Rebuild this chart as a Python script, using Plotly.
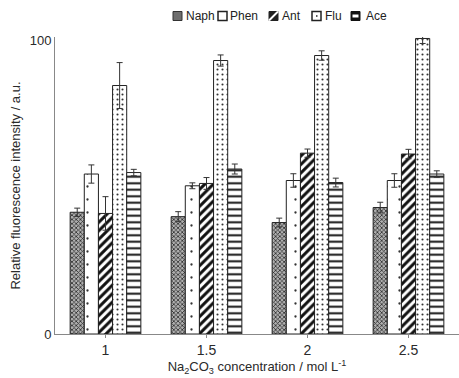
import plotly.graph_objects as go

categories = ["1", "1.5", "2", "2.5"]
series_names = ["Naph", "Phen", "Ant", "Flu", "Ace"]
naph = [41.4, 39.9, 37.9, 43.0]
naph_err = [1.4, 1.7, 1.5, 1.8]
phen = [54.4, 50.4, 52.2, 52.2]
phen_err = [3.1, 1.0, 2.3, 2.3]
ant = [41.0, 51.2, 61.5, 61.2]
ant_err = [5.7, 2.0, 1.4, 1.6]
flu = [84.5, 93.0, 94.7, 100.5]
flu_err = [7.8, 1.9, 1.6, 1.7]
ace = [54.9, 56.1, 51.5, 54.4]
ace_err = [1.1, 1.7, 1.5, 1.1]

values = [naph, phen, ant, flu, ace]
errors = [naph_err, phen_err, ant_err, flu_err, ace_err]

patterns = [
    dict(shape="x", size=3, solidity=0.45, fgcolor="#2a2a2a", bgcolor="#b0b0b0", fillmode="replace", fgopacity=1),
    dict(shape=".", size=13, solidity=0.025, fgcolor="#333333", bgcolor="white", fillmode="replace", fgopacity=1),
    dict(shape="/", size=6, solidity=0.5, fgcolor="#111111", bgcolor="white", fillmode="replace", fgopacity=1),
    dict(shape=".", size=5, solidity=0.14, fgcolor="#333333", bgcolor="white", fillmode="replace", fgopacity=1),
    dict(shape="-", size=6.5, solidity=0.3, fgcolor="#111111", bgcolor="white", fillmode="replace", fgopacity=1),
]

fig = go.Figure()
for name, v, e, p in zip(series_names, values, errors, patterns):
    fig.add_trace(go.Bar(
        x=categories, y=v, name=name,
        marker=dict(color="white", pattern=p, line=dict(color="#222222", width=1)),
        error_y=dict(type="data", array=e, visible=True, color="#333333", thickness=1, width=3),
        showlegend=False,
    ))

font = "Liberation Sans, Arial, sans-serif"
W, H = 459, 378
ML, MR, MT, MB = 55, 0, 37, 44
PW, PH = W - ML - MR, H - MT - MB


def px(x):
    return (x - ML) / PW


def py(y):
    return (H - MB - y) / PH


# manual compact legend (swatch left px, text left px)
legend_pos = [(173, 184), (218, 228), (269, 280), (312, 323), (351, 364)]
SW = 9
LY = 16
shapes = []
annotations = []
for (sx, tx), name in zip(legend_pos, series_names):
    x0, x1 = px(sx), px(sx + SW)
    y0, y1 = py(LY + SW / 2), py(LY - SW / 2)
    if name == "Naph":
        shapes.append(dict(type="rect", xref="paper", yref="paper", x0=x0, x1=x1, y0=y0, y1=y1,
                           fillcolor="#6e6e6e", line=dict(color="#333333", width=1)))
    elif name == "Phen":
        shapes.append(dict(type="rect", xref="paper", yref="paper", x0=x0, x1=x1, y0=y0, y1=y1,
                           fillcolor="white", line=dict(color="#222222", width=1.5)))
    elif name == "Ant":
        shapes.append(dict(type="rect", xref="paper", yref="paper", x0=x0, x1=x1, y0=y0, y1=y1,
                           fillcolor="#222222", line=dict(color="#222222", width=1)))
        shapes.append(dict(type="line", xref="paper", yref="paper", x0=x0, x1=x1, y0=y0, y1=y1,
                           line=dict(color="white", width=2)))
    elif name == "Flu":
        shapes.append(dict(type="rect", xref="paper", yref="paper", x0=x0, x1=x1, y0=y0, y1=y1,
                           fillcolor="white", line=dict(color="#222222", width=1.5)))
        shapes.append(dict(type="rect", xref="paper", yref="paper",
                           x0=px(sx + 4), x1=px(sx + 5.5), y0=py(LY + 0.75), y1=py(LY - 0.75),
                           fillcolor="#222222", line=dict(width=0)))
    else:
        shapes.append(dict(type="rect", xref="paper", yref="paper", x0=x0, x1=x1, y0=y0, y1=y1,
                           fillcolor="#111111", line=dict(color="#111111", width=1)))
        shapes.append(dict(type="rect", xref="paper", yref="paper",
                           x0=px(sx + 1.5), x1=px(sx + SW - 1.5), y0=py(LY + 1.5), y1=py(LY - 1.5),
                           fillcolor="white", line=dict(width=0)))
    annotations.append(dict(text=name, xref="paper", yref="paper", x=px(tx), y=py(LY),
                            xanchor="left", yanchor="middle", showarrow=False,
                            font=dict(family=font, size=12, color="#222222")))

fig.update_layout(
    width=W, height=H,
    margin=dict(l=ML, r=MR, t=MT, b=MB),
    paper_bgcolor="white", plot_bgcolor="white",
    barmode="group", bargap=0.3, bargroupgap=0,
    font=dict(family=font, size=13, color="#2a2a2a"),
    showlegend=False,
    shapes=shapes,
    annotations=annotations,
)
fig.update_xaxes(
    type="category", range=[-0.5, 3.5],
    showline=True, linecolor="#888888", linewidth=1,
    ticks="outside", ticklen=3, tickcolor="#888888",
    showgrid=False, zeroline=False,
    tickfont=dict(size=14),
    title=dict(text="Na<sub>2</sub>CO<sub>3</sub> concentration / mol L<sup>-1</sup>",
               font=dict(size=13), standoff=4),
)
fig.update_yaxes(
    range=[0, 101], tickvals=[0, 100], ticktext=["0", "100"],
    showline=True, linecolor="#888888", linewidth=1,
    ticks="", showgrid=False, zeroline=False,
    tickfont=dict(size=13),
    title=dict(text="Relative fluorescence intensity / a.u.", font=dict(size=13), standoff=6),
)

fig.write_html("out.html")
